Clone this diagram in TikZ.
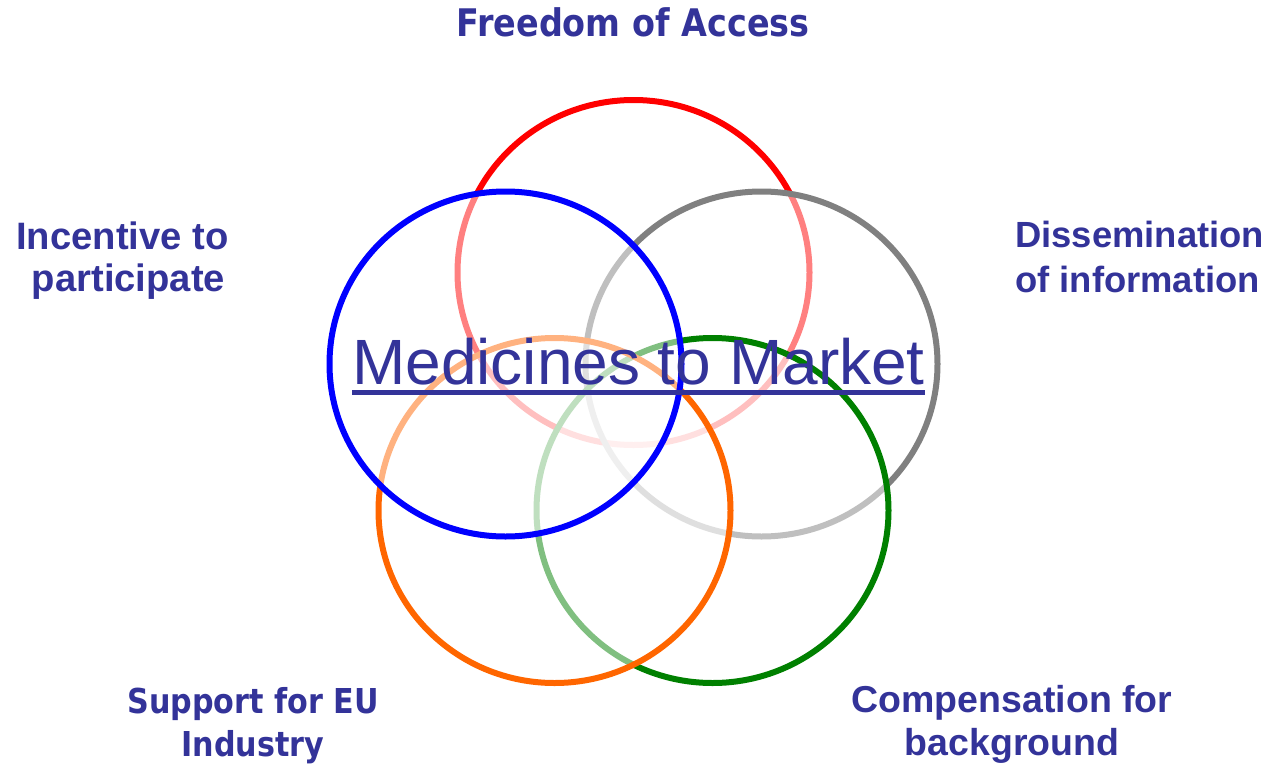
\documentclass[tikz,border=0pt]{standalone}
\usepackage{fontspec}
\setmainfont{Liberation Sans}
\newfontfamily\arialf{Liberation Sans}
\newfontfamily\tahomaf{DejaVu Sans}[FakeStretch=0.88]
\definecolor{txt}{HTML}{333399}
\definecolor{cred}{HTML}{FF0000}
\definecolor{cgray}{HTML}{808080}
\definecolor{cgreen}{HTML}{008000}
\definecolor{corange}{HTML}{FF6600}
\definecolor{cblue}{HTML}{0000FF}
\begin{document}
\begin{tikzpicture}[x=1pt,y=-1pt,
  ring/.style={line width=6pt, fill=white, fill opacity=0.5, draw opacity=1},
  lab/.style={text=txt, inner sep=0pt, anchor=base, align=center,
    font=\arialf\bfseries\fontsize{37.5}{43}\selectfont},
  labt/.style={lab, font=\tahomaf\bfseries\fontsize{38}{43}\selectfont}]
\useasboundingbox (0,0) rectangle (1269,766);
% rings, bottom to top
\draw[ring, draw=cred]    (633.5,272.5) ellipse [x radius=176pt, y radius=172.5pt];
\draw[ring, draw=cgray]   (761.5,364)   ellipse [x radius=176pt, y radius=172.5pt];
\draw[ring, draw=cgreen]  (712.5,510.5) ellipse [x radius=176pt, y radius=172.5pt];
\draw[ring, draw=corange] (554.5,510.5) ellipse [x radius=176pt, y radius=172.5pt];
\draw[ring, draw=cblue]   (505.5,364)   ellipse [x radius=176pt, y radius=172.5pt];
% title
\node[anchor=base west, text=txt, inner sep=0pt,
      font=\arialf\fontsize{64}{64}\selectfont] (title) at (352,384) {Medicines to Market};
\draw[txt, line width=4.5pt] ([yshift=-8.5pt]title.base west) -- ([yshift=-8.5pt]title.base east);
% labels (base anchor = baseline of the last line)
\node[labt] (access) at (633,36) {Freedom of Access};
\node[lab, font=\arialf\bfseries\fontsize{38.2}{42}\selectfont] (incent) at (128.5,291) {Incentive to\kern12pt\\participate};
\node[lab, anchor=base west, align=left, font=\arialf\bfseries\fontsize{36.4}{44.5}\selectfont] (dissem) at (1015,292) {Dissemination\\of information};
\node[lab] (comp) at (1012,755) {Compensation for\\background};
\node[labt, font=\tahomaf\bfseries\fontsize{34.3}{43}\selectfont] (support) at (253,756) {Support for EU\\Industry};
\end{tikzpicture}
\end{document}
